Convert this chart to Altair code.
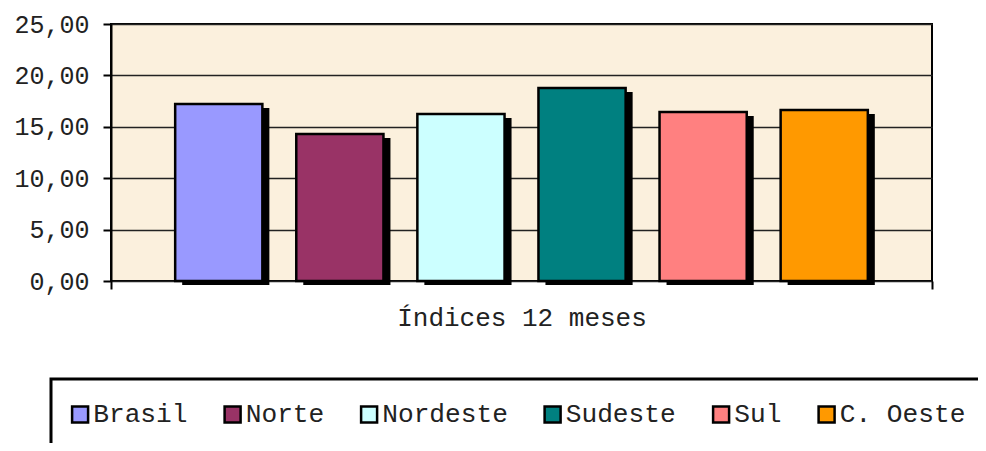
import altair as alt
import pandas as pd

series = ["Brasil", "Norte", "Nordeste", "Sudeste", "Sul", "C. Oeste"]
values = [17.22, 14.30, 16.24, 18.77, 16.44, 16.63]
colors = ["#9999FF", "#993366", "#CCFFFF", "#008080", "#FF8080", "#FF9900"]
category = "Índices 12 meses"
y_ticks = [0, 5, 10, 15, 20, 25]

df = pd.DataFrame({"serie": series, "valor": values})
edges = pd.DataFrame({"e": [0, 1]})

FONT = "Liberation Mono"

xband = alt.X("serie:N", sort=series, axis=None,
              scale=alt.Scale(paddingInner=0.28, paddingOuter=0.53))
yq = alt.Y("valor:Q",
            scale=alt.Scale(domain=[0, 25], nice=False),
            axis=alt.Axis(values=y_ticks, title=None,
                          labelExpr="replace(format(datum.value, '.2f'), '.', ',')",
                          labelFont=FONT, labelFontSize=25, labelColor="#222",
                          labelPadding=14, tickSize=8, tickColor="black", tickWidth=2,
                          domainColor="black", domainWidth=2,
                          grid=True, gridColor="#222", gridWidth=1.5))

shadow = alt.Chart(df).mark_bar(color="black", xOffset=7, yOffset=4, y2Offset=2).encode(
    x=xband, y=yq
)

bars = alt.Chart(df).mark_bar(stroke="black", strokeWidth=2.5).encode(
    x=xband, y=yq,
    color=alt.Color("serie:N", sort=series,
                    scale=alt.Scale(domain=series, range=colors),
                    legend=alt.Legend(title=None, orient="none", direction="horizontal",
                                      legendX=-60, legendY=355,
                                      symbolType="square", symbolSize=256,
                                      symbolStrokeColor="black", symbolStrokeWidth=2.5,
                                      symbolOpacity=1, symbolOffset=-6,
                                      labelFont=FONT, labelFontSize=26.2, labelColor="#222",
                                      labelOffset=0, columnPadding=31.5,
                                      padding=22, strokeColor="black",
                                      fillColor="white"))
)

edge_layer = alt.Chart(edges).mark_point(opacity=0).encode(
    x=alt.X("e:Q", scale=alt.Scale(domain=[0, 1], nice=False, zero=False),
            axis=alt.Axis(values=[0, 1], labels=False, domain=False,
                          tickSize=8, tickColor="black", tickWidth=2, grid=False,
                          title=category, titleFont=FONT, titleFontSize=26,
                          titleFontWeight="normal", titleColor="#222",
                          titlePadding=14))
)

chart = alt.layer(alt.layer(shadow, bars), edge_layer).resolve_scale(x="independent").properties(
    width=821, height=257,
    autosize=alt.AutoSizeParams(type="none"),
    padding={"left": 103, "top": 16, "right": 46, "bottom": 162},
    background="white",
).configure_view(fill="#FBF0DD", stroke="black", strokeWidth=2
).configure_legend(strokeWidth=3)

chart.save("out.html", embed_options={"renderer": "svg", "actions": False})
